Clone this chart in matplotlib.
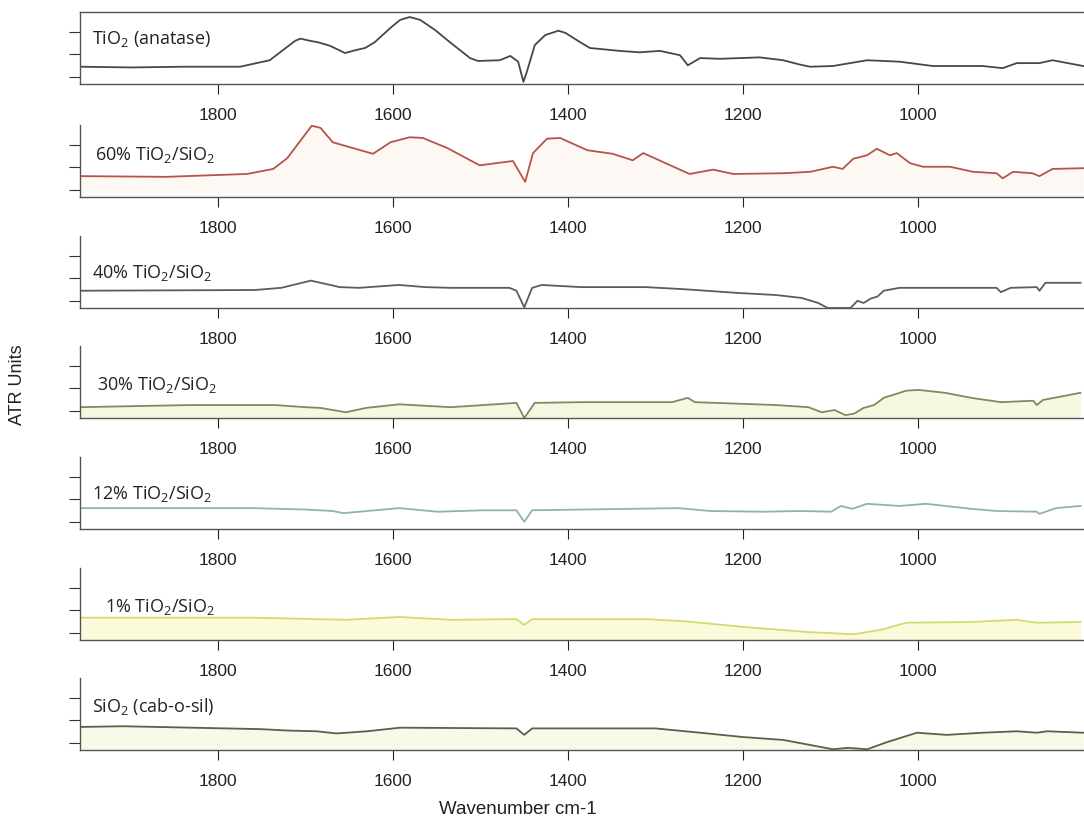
import matplotlib
matplotlib.use("Agg")
import matplotlib.pyplot as plt

plt.rcParams["font.family"] = "Liberation Sans"
plt.rcParams["mathtext.fontset"] = "custom"
plt.rcParams["mathtext.rm"] = "Open Sans"
plt.rcParams["mathtext.it"] = "Open Sans:italic"

# ATR spectra, arbitrary units, one pair of arrays per sample
wn_tio2 = [1958, 1900, 1840, 1775, 1741, 1726, 1712, 1706, 1695, 1686, 1672, 1655, 1643,
           1632, 1621, 1603, 1592, 1581, 1569, 1552, 1535, 1512, 1503, 1478, 1466,
           1457, 1451, 1447, 1438, 1426, 1411, 1403, 1386, 1375, 1341, 1318, 1295,
           1272, 1263, 1249, 1226, 1203, 1181, 1154, 1135, 1123, 1097, 1058, 1021,
           983, 926, 903, 887, 861, 846, 811]
atr_tio2 = [0.24, 0.23, 0.24, 0.24, 0.33, 0.47, 0.60, 0.63, 0.60, 0.58, 0.53, 0.43, 0.47,
            0.50, 0.58, 0.78, 0.89, 0.93, 0.89, 0.75, 0.58, 0.36, 0.32, 0.33, 0.39,
            0.31, 0.03, 0.17, 0.54, 0.68, 0.74, 0.71, 0.58, 0.50, 0.46, 0.44, 0.46,
            0.40, 0.26, 0.36, 0.35, 0.36, 0.37, 0.33, 0.27, 0.24, 0.25, 0.33, 0.31,
            0.25, 0.25, 0.22, 0.29, 0.29, 0.33, 0.25]

wn_60 = [1958, 1860, 1767, 1737, 1721, 1703, 1693, 1683, 1669, 1646, 1623, 1603, 1581,
         1566, 1538, 1501, 1463, 1449, 1440, 1424, 1409, 1378, 1349, 1326, 1314,
         1283, 1261, 1234, 1211, 1154, 1123, 1097, 1086, 1074, 1058, 1047, 1032,
         1024, 1009, 994, 963, 937, 910, 903, 891, 869, 861, 846, 811]
atr_60 = [0.29, 0.28, 0.32, 0.39, 0.54, 0.83, 0.99, 0.96, 0.76, 0.68, 0.60, 0.76, 0.83,
          0.82, 0.68, 0.44, 0.50, 0.21, 0.61, 0.81, 0.82, 0.65, 0.60, 0.51, 0.61,
          0.44, 0.32, 0.38, 0.32, 0.33, 0.35, 0.42, 0.39, 0.53, 0.58, 0.67, 0.58,
          0.61, 0.47, 0.42, 0.42, 0.35, 0.33, 0.26, 0.35, 0.33, 0.29, 0.39, 0.40]

wn_40 = [1958, 1758, 1728, 1694, 1683, 1661, 1639, 1593, 1563, 1534, 1467, 1459,
         1450, 1441, 1430, 1385, 1311, 1266, 1207, 1162, 1133, 1114, 1103, 1077,
         1069, 1062, 1054, 1046, 1039, 1021, 939, 910, 905, 894, 864, 861, 854, 814]
atr_40 = [0.24, 0.25, 0.28, 0.38, 0.35, 0.29, 0.28, 0.32, 0.29, 0.28, 0.28, 0.24,
          0.01, 0.28, 0.32, 0.29, 0.29, 0.26, 0.21, 0.18, 0.14, 0.07, 0.00, 0.00,
          0.10, 0.07, 0.13, 0.16, 0.24, 0.28, 0.28, 0.28, 0.22, 0.28, 0.29, 0.24,
          0.35, 0.35]

wn_30 = [1958, 1832, 1735, 1700, 1683, 1654, 1631, 1593, 1534, 1459, 1450, 1438, 1385,
         1281, 1263, 1255, 1162, 1125, 1110, 1095, 1083, 1073, 1062, 1050, 1039,
         1013, 999, 969, 939, 905, 868, 864, 857, 814]
atr_30 = [0.15, 0.18, 0.18, 0.15, 0.14, 0.08, 0.14, 0.19, 0.15, 0.21, 0.00, 0.21, 0.22,
          0.22, 0.28, 0.22, 0.18, 0.15, 0.08, 0.11, 0.04, 0.06, 0.14, 0.18, 0.28,
          0.38, 0.39, 0.35, 0.28, 0.22, 0.24, 0.18, 0.25, 0.35]

wn_12 = [1958, 1758, 1700, 1669, 1657, 1593, 1549, 1497, 1459, 1450, 1441, 1274, 1237,
         1177, 1133, 1099, 1088, 1075, 1058, 1021, 991, 939, 910, 864, 861, 842, 814]
atr_12 = [0.29, 0.29, 0.27, 0.25, 0.22, 0.29, 0.24, 0.26, 0.26, 0.10, 0.26, 0.29, 0.25,
          0.24, 0.25, 0.24, 0.32, 0.28, 0.35, 0.32, 0.35, 0.28, 0.25, 0.24, 0.21,
          0.29, 0.32]

wn_1 = [1958, 1758, 1654, 1593, 1534, 1459, 1450, 1441, 1311, 1266, 1198, 1125,
        1073, 1043, 1013, 939, 887, 864, 814]
atr_1 = [0.31, 0.31, 0.28, 0.32, 0.28, 0.29, 0.21, 0.29, 0.29, 0.26, 0.18, 0.11,
         0.08, 0.14, 0.24, 0.25, 0.28, 0.24, 0.25]

wn_sio2 = [1958, 1909, 1752, 1720, 1687, 1665, 1653, 1630, 1592, 1459, 1450, 1441, 1300,
           1249, 1200, 1154, 1097, 1080, 1058, 1035, 1001, 967, 926, 887, 864, 852, 811]
atr_sio2 = [0.32, 0.33, 0.29, 0.27, 0.26, 0.23, 0.24, 0.26, 0.31, 0.30, 0.21, 0.30, 0.30,
            0.24, 0.18, 0.14, 0.01, 0.03, 0.01, 0.11, 0.24, 0.21, 0.24, 0.26, 0.24,
            0.26, 0.24]

labels = ["TiO$_2$ (anatase)", "60% TiO$_2$/SiO$_2$", "40% TiO$_2$/SiO$_2$",
          "30% TiO$_2$/SiO$_2$", "12% TiO$_2$/SiO$_2$", "1% TiO$_2$/SiO$_2$",
          "SiO$_2$ (cab-o-sil)"]
spectra = [(wn_tio2, atr_tio2), (wn_60, atr_60), (wn_40, atr_40), (wn_30, atr_30),
           (wn_12, atr_12), (wn_1, atr_1), (wn_sio2, atr_sio2)]
line_colors = ["#474747", "#b4544a", "#5c5c5c", "#7e8a62", "#8db2b0", "#d5da6e", "#5c5f4a"]
fill_colors = [None, "#fef8f5", None, "#f7f8e2", None, "#fbfbdc", "#f9f9e9"]

W, H = 1084, 823
fig = plt.figure(figsize=(W / 100, H / 100), dpi=100)

bottoms = [84, 197, 308, 418, 529, 640, 750]
label_y = [0.62, 0.58, 0.49, 0.46, 0.49, 0.46, 0.60]
label_x = [0.012, 0.015, 0.012, 0.017, 0.012, 0.025, 0.012]
panel_h = 72
left = 80

for i, (wn, atr) in enumerate(spectra):
    ax = fig.add_axes([left / W, 1 - bottoms[i] / H, (W - left) / W, panel_h / H])
    if fill_colors[i]:
        ax.fill_between(wn, 0, atr, color=fill_colors[i], lw=0)
    ax.plot(wn, atr, color=line_colors[i], lw=1.3)
    ax.set_xlim(1958, 810)
    ax.set_ylim(0, 1)
    ax.set_xticks([1800, 1600, 1400, 1200, 1000])
    ax.set_yticks([0.1, 0.41, 0.72])
    ax.set_yticklabels([])
    ax.tick_params(axis="x", direction="out", length=7, width=0.8, pad=10,
                   labelsize=12.5, colors="#222222")
    ax.tick_params(axis="y", direction="out", length=8, width=0.8, colors="#333333")
    for side in ["left", "bottom", "top", "right"]:
        ax.spines[side].set_color("#555555")
        ax.spines[side].set_linewidth(1.0)
    if i > 0:
        ax.spines["top"].set_visible(False)
    ax.spines["right"].set_visible(False)
    ax.text(label_x[i], label_y[i], labels[i], transform=ax.transAxes,
            fontsize=13, family="Open Sans", color="#222222", va="center", ha="left")

fig.text(18 / W, 1 - 385 / H, "ATR Units", rotation=90, fontsize=13,
         color="#222222", ha="center", va="center")
fig.text(518 / W, 1 - 809 / H, "Wavenumber cm-1", fontsize=13.5,
         color="#222222", ha="center", va="center")

fig.savefig("out.png", dpi=100)
